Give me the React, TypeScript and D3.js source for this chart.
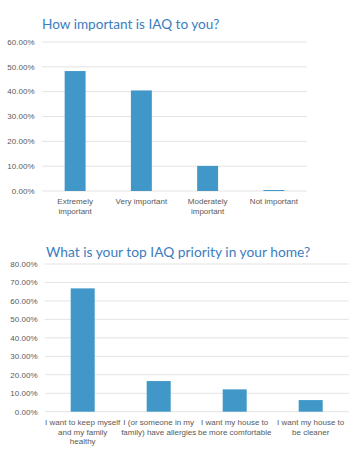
import React from "react";
import * as d3 from "d3";

const cats1 = [["Extremely", "important"], ["Very important"], ["Moderately", "important"], ["Not important"]];
const vals1 = [48.3, 40.5, 10.1, 0.4];
const ticks1 = [0, 10, 20, 30, 40, 50, 60];

const cats2 = [
  ["I want to keep myself", "and my family", "healthy"],
  ["I (or someone in my", "family) have allergies"],
  ["I want my house to", "be more comfortable"],
  ["I want my house to", "be cleaner"],
];
const vals2 = [66.8, 16.6, 12.1, 6.3];
const ticks2 = [0, 10, 20, 30, 40, 50, 60, 70, 80];

const BAR = "#4198c8";
const TITLE = "#3b7dbf";
const TXT = "#595959";
const GRID = "#e3e3e3";
const FONT = "'Liberation Sans', Arial, sans-serif";
const TFONT = "Lato, 'Open Sans', sans-serif";

type P = {
  title: string; tx: number; ty: number; tsize: number;
  cats: string[][]; vals: number[]; ticks: number[];
  x0: number; x1: number; y0: number; y1: number; labelX: number; xlabY: number; lh: number;
};

function Chart({ title, tx, ty, tsize, cats, vals, ticks, x0, x1, y0, y1, labelX, xlabY, lh }: P) {
  const max = ticks[ticks.length - 1];
  const y = d3.scaleLinear().domain([0, max]).range([y0, y1]);
  const x = d3.scaleBand<number>().domain(d3.range(cats.length)).range([x0, x1]).paddingInner(0.684).paddingOuter(0.342);
  return (
    <g>
      <text x={tx} y={ty} fill={TITLE} fontFamily={TFONT} fontSize={tsize}>{title}</text>
      {ticks.map((t) => (
        <g key={t}>
          <line x1={x0} x2={x1} y1={y(t)} y2={y(t)} stroke={GRID} strokeWidth={1} />
          <text x={labelX} y={y(t)} dy="0.35em" textAnchor="end" fill={TXT} fontFamily={FONT} fontSize={8}>
            {t.toFixed(2) + "%"}
          </text>
        </g>
      ))}
      {vals.map((v, i) => (
        <rect key={i} x={x(i)} y={y(v)} width={x.bandwidth()} height={y(0) - y(v)} fill={BAR} />
      ))}
      {cats.map((lines, i) => (
        <text key={i} textAnchor="middle" fill={TXT} fontFamily={FONT} fontSize={8}>
          {lines.map((l, j) => (
            <tspan key={j} x={(x(i) as number) + x.bandwidth() / 2} y={xlabY + j * lh}>{l}</tspan>
          ))}
        </text>
      ))}
    </g>
  );
}

export default function App() {
  return (
    <svg width={359} height={454} style={{ position: "absolute", left: 0, top: 0, background: "#fff" }}>
      <Chart title="How important is IAQ to you?" tx={42} ty={29} tsize={13.6} cats={cats1} vals={vals1} ticks={ticks1}
        x0={42} x1={307} y0={191} y1={42} labelX={34.5} xlabY={204} lh={9.7} />
      <Chart title="What is your top IAQ priority in your home?" tx={46} ty={256.7} tsize={13.8} cats={cats2} vals={vals2} ticks={ticks2}
        x0={44.7} x1={348.7} y0={411.7} y1={264} labelX={37.5} xlabY={425.3} lh={9.5} />
    </svg>
  );
}
